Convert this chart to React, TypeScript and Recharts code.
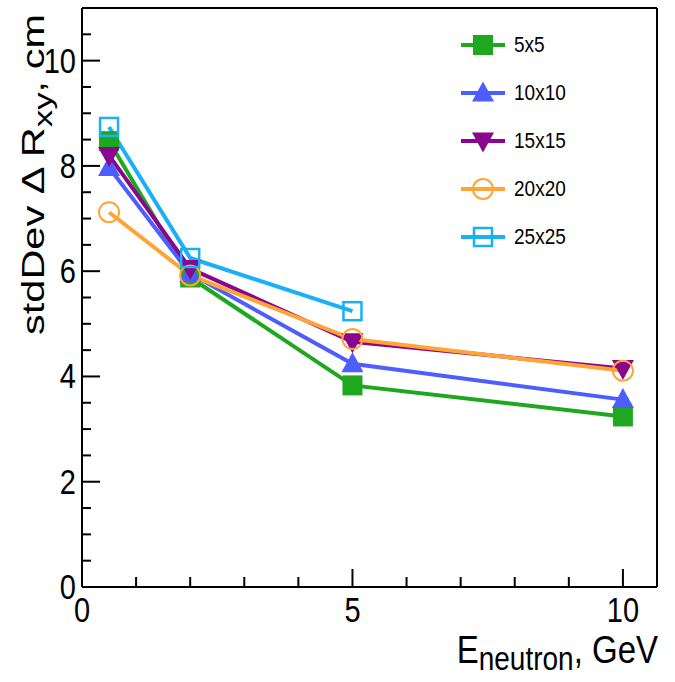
import { LineChart, Line, XAxis, YAxis, ReferenceLine } from "recharts";

const X_VALUES = [0.5, 2, 5, 10];
const SERIES_5X5 = [8.47, 5.88, 3.83, 3.24];
const SERIES_10X10 = [7.97, 5.95, 4.24, 3.56];
const SERIES_15X15 = [8.2, 6.05, 4.66, 4.15];
const SERIES_20X20 = [7.12, 5.92, 4.71, 4.11];
const SERIES_25X25 = [8.74, 6.25, 5.24, null];

const X_TICKS = [0, 1, 2, 3, 4, 5, 6, 7, 8, 9, 10];
const X_MAJOR = [0, 5, 10];
const Y_TICKS = [0, 0.5, 1, 1.5, 2, 2.5, 3, 3.5, 4, 4.5, 5, 5.5, 6, 6.5, 7, 7.5, 8, 8.5, 9, 9.5, 10, 10.5];
const Y_MAJOR = [0, 2, 4, 6, 8, 10];

const X_MAX = 10.63;
const Y_MAX = 11;

const FONT = "'Liberation Sans', Arial, Helvetica, sans-serif";
// the reference looks a bit stretched vertically
const STRETCH = 1.2;

type MarkerKind = "square" | "triangleUp" | "triangleDown" | "circleOpen" | "squareOpen";

const SERIES = [
  { key: "s5", name: "5x5", color: "#1fa81f", marker: "square" as MarkerKind, values: SERIES_5X5 },
  { key: "s10", name: "10x10", color: "#4d5eff", marker: "triangleUp" as MarkerKind, values: SERIES_10X10 },
  { key: "s15", name: "15x15", color: "#8a068e", marker: "triangleDown" as MarkerKind, values: SERIES_15X15 },
  { key: "s20", name: "20x20", color: "#ffa536", marker: "circleOpen" as MarkerKind, values: SERIES_20X20 },
  { key: "s25", name: "25x25", color: "#1ab0f8", marker: "squareOpen" as MarkerKind, values: SERIES_25X25 },
];

const chartData = X_VALUES.map((x, i) => {
  const row: Record<string, number | null> = { x };
  SERIES.forEach((s) => {
    row[s.key] = s.values[i];
  });
  return row;
});

const Marker = ({ kind, cx, cy, color, size = 10 }: { kind: MarkerKind; cx: number; cy: number; color: string; size?: number }) => {
  switch (kind) {
    case "square":
      return <rect x={cx - size} y={cy - size} width={size * 2} height={size * 2} fill={color} />;
    case "triangleUp":
      return (
        <polygon
          points={`${cx},${cy - size * 1.15} ${cx - size * 1.1},${cy + size * 0.85} ${cx + size * 1.1},${cy + size * 0.85}`}
          fill={color}
        />
      );
    case "triangleDown":
      return (
        <polygon
          points={`${cx - size * 1.1},${cy - size * 0.85} ${cx + size * 1.1},${cy - size * 0.85} ${cx},${cy + size * 1.15}`}
          fill={color}
        />
      );
    case "circleOpen":
      return <circle cx={cx} cy={cy} r={size} fill="none" stroke={color} strokeWidth={2} />;
    case "squareOpen":
      return (
        <rect x={cx - size + 1} y={cy - size + 1} width={size * 2 - 2} height={size * 2 - 2} fill="none" stroke={color} strokeWidth={2.5} />
      );
  }
  return null;
};

const makeDot = (kind: MarkerKind, color: string, name: string) => (props: any) => {
  const { cx, cy, index, value } = props;
  if (cx == null || cy == null || value == null) return <g key={`${name}-${index}`} />;
  return (
    <g key={`${name}-${index}`}>
      <Marker kind={kind} cx={cx} cy={cy} color={color} />
    </g>
  );
};

// ROOT style ticks: drawn inside the frame, minor ticks shorter
const XTick = (props: any) => {
  const { x, y, payload } = props;
  const major = X_MAJOR.includes(payload.value);
  return (
    <g>
      <line x1={x} x2={x} y1={y} y2={y - (major ? 18 : 10)} stroke="#000" strokeWidth={2} />
      {major && (
        <text
          transform={`translate(${x}, ${y + 35}) scale(1, ${STRETCH})`}
          textAnchor="middle"
          fontSize={29}
          fontFamily={FONT}
          fill="#000"
        >
          {payload.value}
        </text>
      )}
    </g>
  );
};

const YTick = (props: any) => {
  const { x, y, payload } = props;
  const major = Y_MAJOR.includes(payload.value);
  return (
    <g>
      <line x1={x} x2={x + (major ? 18 : 9)} y1={y} y2={y} stroke="#000" strokeWidth={2} />
      {major && (
        <text
          transform={`translate(${x - 6}, ${y + 12}) scale(1, ${STRETCH})`}
          textAnchor="end"
          fontSize={29}
          fontFamily={FONT}
          fill="#000"
        >
          {payload.value}
        </text>
      )}
    </g>
  );
};

const renderYTitle = () => (
  <text
    transform="translate(44, 14) rotate(-90) scale(1.34, 1)"
    textAnchor="end"
    fontSize={31}
    fontFamily={FONT}
    fill="#000"
  >
    stdDev Δ R<tspan dy={8} fontSize={26}>xy</tspan>
    <tspan dy={-8}>, cm</tspan>
  </text>
);

const renderXTitle = () => (
  <text
    transform={`translate(658, 663) scale(1, ${STRETCH})`}
    textAnchor="end"
    fontSize={33}
    fontFamily={FONT}
    fill="#000"
  >
    E<tspan dy={6} fontSize={28}>neutron</tspan>
    <tspan dy={-6}>, GeV</tspan>
  </text>
);

const LegendBox = () => (
  <div style={{ position: "absolute", left: 460, top: 21, fontFamily: FONT, fontSize: 19, color: "#000" }}>
    {SERIES.map((s) => (
      <div key={s.key} style={{ display: "flex", alignItems: "center", height: 48 }}>
        <svg width={46} height={26} style={{ display: "block" }}>
          <line x1={1} x2={45} y1={13} y2={13} stroke={s.color} strokeWidth={4} />
          <Marker kind={s.marker} cx={23} cy={13} color={s.color} />
        </svg>
        <span style={{ marginLeft: 8, display: "inline-block", transform: `scale(1, ${STRETCH})` }}>{s.name}</span>
      </div>
    ))}
  </div>
);

const App = () => {
  return (
    <div style={{ position: "absolute", left: 0, top: 0, width: 675, height: 682, background: "#fff" }}>
      <LineChart
        width={675}
        height={682}
        data={chartData}
        margin={{ top: 8, right: 18, left: 22, bottom: 35 }}
      >
        <XAxis
          dataKey="x"
          type="number"
          domain={[0, X_MAX]}
          ticks={X_TICKS}
          tick={<XTick />}
          tickLine={false}
          tickSize={0}
          tickMargin={0}
          height={60}
          stroke="#000"
          strokeWidth={2}
          interval={0}
          allowDataOverflow
          label={{ content: renderXTitle }}
        />
        <YAxis
          type="number"
          domain={[0, Y_MAX]}
          ticks={Y_TICKS}
          tick={<YTick />}
          tickLine={false}
          tickSize={0}
          tickMargin={0}
          width={60}
          stroke="#000"
          strokeWidth={2}
          interval={0}
          allowDataOverflow
          label={{ content: renderYTitle }}
        />
        <ReferenceLine x={X_MAX} stroke="#000" strokeWidth={2} />
        <ReferenceLine y={Y_MAX} stroke="#000" strokeWidth={2} />
        {SERIES.map((s) => (
          <Line
            key={s.key}
            dataKey={s.key}
            name={s.name}
            stroke={s.color}
            strokeWidth={4}
            dot={makeDot(s.marker, s.color, s.name)}
            activeDot={false}
            isAnimationActive={false}
            connectNulls={false}
          />
        ))}
      </LineChart>
      <LegendBox />
    </div>
  );
};

export default App;
